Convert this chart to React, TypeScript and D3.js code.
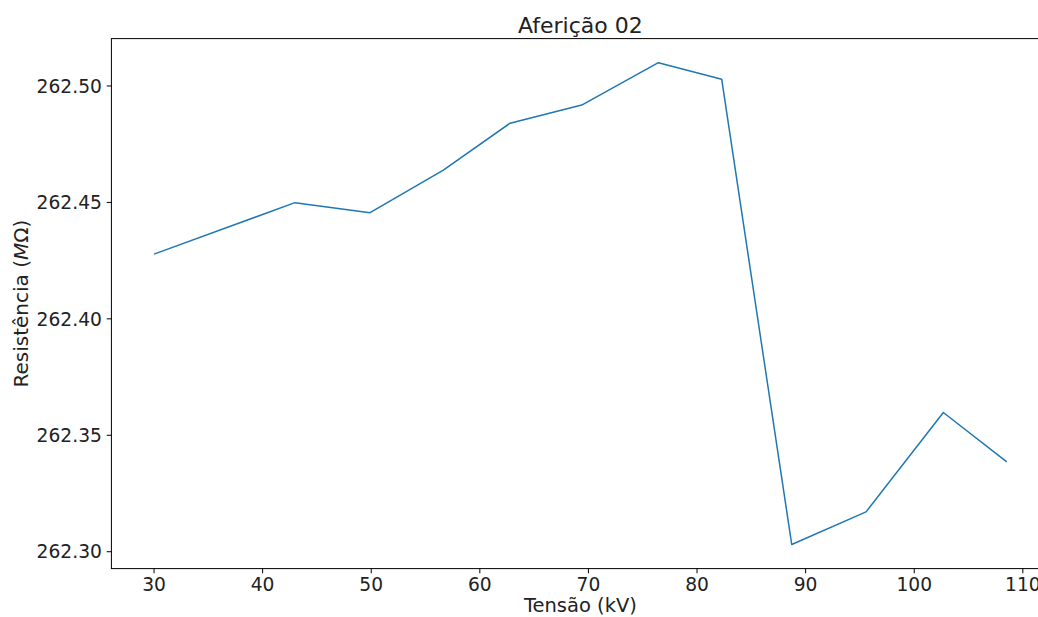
import React from "react";
import * as d3 from "d3";

const tensaoKV = [30.0, 42.98, 49.89, 56.64, 62.78, 69.38, 76.44, 82.27, 88.72, 95.56, 102.68, 108.52];
const resistencia = [262.4278, 262.4499, 262.4456, 262.4639, 262.484, 262.4918, 262.51, 262.5029, 262.3031, 262.3171, 262.3598, 262.3386];
const xTicks = [30, 40, 50, 60, 70, 80, 90, 100, 110];
const yTicks = [262.3, 262.35, 262.4, 262.45, 262.5];
const title = "Aferição 02";
const xLabel = "Tensão (kV)";

const W = 1038;
const H = 617;
const left = 111.4;
const right = 1049.4;
const top = 38.6;
const bottom = 568.6;
const FONT = "'DejaVu Sans', sans-serif";

function padded(vals: number[]): [number, number] {
  const [a, b] = d3.extent(vals) as [number, number];
  const m = (b - a) * 0.05;
  return [a - m, b + m];
}

export default function App() {
  const x = d3.scaleLinear().domain(padded(tensaoKV)).range([left, right]);
  const y = d3.scaleLinear().domain(padded(resistencia)).range([bottom, top]);
  const pts = tensaoKV.map((t, i) => [t, resistencia[i]] as [number, number]);
  const line = d3
    .line<[number, number]>()
    .x((d) => x(d[0]))
    .y((d) => y(d[1]));
  const tl = 4.67;
  return (
    <svg
      width={W}
      height={H}
      style={{ position: "absolute", left: 0, top: 0, background: "#fff", overflow: "hidden" }}
      fontFamily={FONT}
    >
      <rect x={0} y={0} width={W} height={H} fill="#fff" />
      <path d={line(pts) || ""} fill="none" stroke="#1f77b4" strokeWidth={1.5} strokeLinejoin="round" />
      <rect x={left} y={top} width={right - left} height={bottom - top} fill="none" stroke="#000" strokeWidth={1} />
      {xTicks.map((t) => (
        <g key={"x" + t}>
          <line x1={x(t)} x2={x(t)} y1={bottom} y2={bottom + tl} stroke="#000" strokeWidth={1} />
          <text x={x(t)} y={bottom + 22.5} textAnchor="middle" fontSize={18.67} fill="#222">
            {t}
          </text>
        </g>
      ))}
      {yTicks.map((t) => (
        <g key={"y" + t}>
          <line x1={left - tl} x2={left} y1={y(t)} y2={y(t)} stroke="#000" strokeWidth={1} />
          <text x={left - 9.5} y={y(t)} dy="0.36em" textAnchor="end" fontSize={18.67} fill="#222">
            {t.toFixed(2)}
          </text>
        </g>
      ))}
      <text x={(left + right) / 2} y={33} textAnchor="middle" fontSize={22} fill="#222">
        {title}
      </text>
      <text x={(left + right) / 2} y={612} textAnchor="middle" fontSize={19.5} fill="#222">
        {xLabel}
      </text>
      <text
        transform={`translate(28, ${(top + bottom) / 2}) rotate(-90)`}
        textAnchor="middle"
        fontSize={20}
        fill="#222"
      >
        Resistência (<tspan fontStyle="italic">M</tspan>Ω)
      </text>
    </svg>
  );
}
